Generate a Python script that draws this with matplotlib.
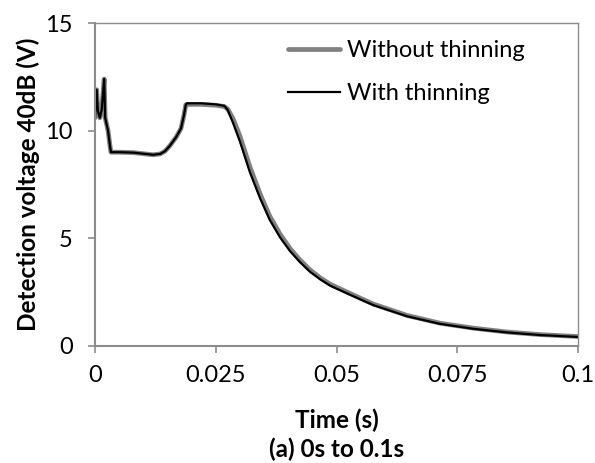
import matplotlib
matplotlib.use("Agg")
import matplotlib.pyplot as plt
import numpy as np

# Time (s)
time_with = [0.0, 0.00035, 0.0006, 0.001, 0.0014, 0.0019, 0.0021, 0.0024, 0.0027, 0.0031, 0.0033,
             0.005, 0.008, 0.010, 0.012, 0.0135, 0.0145, 0.0155, 0.0168, 0.0178, 0.0184, 0.0188,
             0.019, 0.022, 0.025, 0.0268, 0.0275, 0.0286, 0.030, 0.0321, 0.0342, 0.0362, 0.0383,
             0.0404, 0.0425, 0.0445, 0.0466, 0.0487, 0.0524, 0.0576, 0.0646, 0.0714, 0.0783,
             0.0853, 0.0921, 0.1]
volt_with = [10.6, 11.9, 10.9, 10.6, 11.0, 12.4, 10.6, 10.3, 10.0, 9.3, 9.0,
             9.0, 8.98, 8.93, 8.88, 8.92, 9.05, 9.3, 9.7, 10.1, 10.7, 11.2,
             11.27, 11.27, 11.22, 11.15, 10.95, 10.35, 9.5, 8.05, 6.85, 5.85, 5.05,
             4.4, 3.88, 3.45, 3.1, 2.8, 2.42, 1.9, 1.38, 1.03, 0.8,
             0.63, 0.51, 0.42]

time_without = time_with
volt_without = [10.6, 11.9, 10.9, 10.6, 11.0, 12.4, 10.6, 10.3, 10.0, 9.3, 9.0,
                9.0, 8.98, 8.93, 8.88, 8.92, 9.05, 9.3, 9.7, 10.1, 10.7, 11.2,
                11.22, 11.22, 11.18, 11.12, 11.0, 10.55, 9.75, 8.3, 7.05, 6.02, 5.2,
                4.52, 3.98, 3.54, 3.17, 2.87, 2.48, 1.95, 1.42, 1.06, 0.83,
                0.65, 0.53, 0.44]

xticks = [0, 0.025, 0.05, 0.075, 0.1]
xtick_labels = ["0", "0.025", "0.05", "0.075", "0.1"]
yticks = [0, 5, 10, 15]

plt.rcParams['font.family'] = ['Lato', 'DejaVu Sans']

fig = plt.figure(figsize=(5.95, 4.63), dpi=100)
ax = fig.add_axes([95/595, 1 - 346/463, (578-95)/595, (346-23)/463])

ax.plot(time_without, volt_without, color='#808080', lw=3.4, label='Without thinning',
        solid_joinstyle='round', solid_capstyle='round')
ax.plot(time_with, volt_with, color='black', lw=1.6, label='With thinning',
        solid_joinstyle='round')

ax.set_xlim(0, 0.1)
ax.set_ylim(0, 15)
ax.set_xticks(xticks)
ax.set_xticklabels(xtick_labels)
ax.set_yticks(yticks)

spine_color = '#8c8c8c'
for s in ax.spines.values():
    s.set_color(spine_color)
    s.set_linewidth(1.0)
ax.spines['left'].set_linewidth(1.5)
ax.spines['bottom'].set_linewidth(1.5)

ax.tick_params(axis='both', direction='out', length=5, width=1.2, color=spine_color,
               labelsize=17, labelcolor='black')
ax.tick_params(axis='y', pad=11)
ax.tick_params(axis='x', pad=9)

ax.set_ylabel('Detection voltage 40dB (V)', fontsize=17.5, fontweight='bold', labelpad=4)
ax.set_xlabel('Time (s)', fontsize=17.5, fontweight='bold', labelpad=16)
fig.text(337/595, 1 - 449/463, '(a) 0s to 0.1s', fontsize=17.5, fontweight='bold',
         ha='center', va='center')

ax.legend(loc='upper left', bbox_to_anchor=(288/595, 1 - 40/463),
          bbox_transform=fig.transFigure, frameon=False, fontsize=17,
          handlelength=2.2, handletextpad=0.3, labelspacing=0.95,
          borderaxespad=0, borderpad=0)

fig.savefig('out.png', dpi=100)
